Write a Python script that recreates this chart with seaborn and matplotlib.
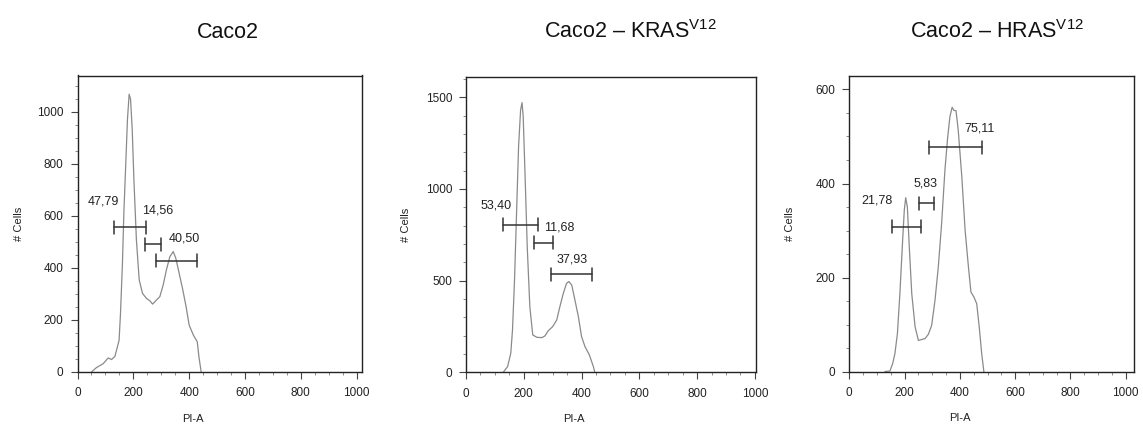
import matplotlib
matplotlib.use("Agg")
import matplotlib.pyplot as plt
from matplotlib.ticker import MultipleLocator
import seaborn as sns
import pandas as pd

sns.set_theme(style="ticks")
plt.rcParams["font.family"] = ["Liberation Sans", "DejaVu Sans"]
plt.rcParams["mathtext.fontset"] = "custom"
plt.rcParams["mathtext.rm"] = "Liberation Sans"

# PI-A channel / cell count histograms
caco2_x = [50, 68, 92, 110, 122, 134, 149, 154, 161, 166, 173, 179, 185, 190, 196,
           202, 211, 221, 233, 247, 259, 269, 283, 295, 307, 319, 331, 343, 352,
           364, 376, 389, 400, 415, 429, 435, 443]
caco2_y = [0, 17, 32, 54, 48, 60, 122, 225, 418, 611, 804, 972, 1068, 1049, 933,
           740, 508, 354, 302, 283, 274, 261, 277, 290, 335, 395, 444, 463, 438,
           380, 322, 251, 180, 142, 116, 58, 0]

kras_x = [129, 144, 155, 161, 168, 175, 182, 189, 194, 198, 205, 212, 221, 231,
          245, 262, 273, 285, 300, 314, 325, 337, 348, 356, 366, 377, 389, 400,
          412, 427, 441, 446]
kras_y = [0, 31, 104, 231, 504, 867, 1231, 1431, 1471, 1395, 1049, 685, 358, 204,
          191, 189, 198, 227, 249, 285, 358, 431, 485, 495, 476, 395, 304, 195,
          140, 95, 31, 0]

hras_x = [129, 147, 157, 165, 174, 183, 193, 199, 204, 210, 217, 226, 238, 250,
          262, 274, 286, 298, 310, 322, 334, 346, 356, 364, 372, 379, 386, 394,
          407, 419, 431, 440, 451, 461, 470, 479, 487]
hras_y = [1, 2, 18, 39, 81, 166, 280, 344, 370, 351, 266, 166, 96, 67, 69, 71, 80,
          99, 152, 223, 315, 429, 499, 542, 562, 555, 555, 514, 415, 301, 223, 170,
          159, 145, 96, 39, 0]

# Gate markers: start, end, height and the percentage shown
caco2_gate_start = [131, 241, 281]
caco2_gate_end = [245, 299, 427]
caco2_gate_y = [557, 492, 427]
caco2_gate_pct = ["47,79", "14,56", "40,50"]
caco2_label_xy = [(92, 656), (286, 620), (384, 512)]

kras_gate_start = [129, 235, 296]
kras_gate_end = [248, 300, 437]
kras_gate_y = [805, 707, 535]
kras_gate_pct = ["53,40", "11,68", "37,93"]
kras_label_xy = [(104, 909), (322, 791), (369, 615)]

hras_gate_start = [154, 253, 290]
hras_gate_end = [258, 308, 479]
hras_gate_y = [308, 358, 477]
hras_gate_pct = ["21,78", "5,83", "75,11"]
hras_label_xy = [(99, 365), (276, 400), (470, 517)]

titles = ["Caco2", r"Caco2 – KRAS$^{\mathrm{V12}}$", r"Caco2 – HRAS$^{\mathrm{V12}}$"]

W, H = 1143, 428
fig = plt.figure(figsize=(W / 100, H / 100), dpi=100)

panels = [
    dict(x=caco2_x, y=caco2_y, gs=caco2_gate_start, ge=caco2_gate_end, gy=caco2_gate_y,
         gp=caco2_gate_pct, lxy=caco2_label_xy,
         box=(77.5, 75.5, 361.7, 372.0), xlim=1018, ylim=1140, ymaj=200, ymin=50,
         cap_frac=0.022, xlab=0.406, title_x=228),
    dict(x=kras_x, y=kras_y, gs=kras_gate_start, ge=kras_gate_end, gy=kras_gate_y,
         gp=kras_gate_pct, lxy=kras_label_xy,
         box=(466.0, 77.3, 756.0, 372.3), xlim=1004, ylim=1609, ymaj=500, ymin=100,
         cap_frac=0.022, xlab=0.372, title_x=630),
    dict(x=hras_x, y=hras_y, gs=hras_gate_start, ge=hras_gate_end, gy=hras_gate_y,
         gp=hras_gate_pct, lxy=hras_label_xy,
         box=(849.3, 75.7, 1134.0, 372.0), xlim=1030, ylim=629, ymaj=200, ymin=50,
         cap_frac=0.022, xlab=0.389, title_x=997),
]

for p, title in zip(panels, titles):
    l, t, r, b = p["box"]
    ax = fig.add_axes([l / W, 1 - b / H, (r - l) / W, (b - t) / H])
    df = pd.DataFrame({"PI-A": p["x"], "count": p["y"]})
    sns.lineplot(data=df, x="PI-A", y="count", ax=ax, color="#8a8a8a", lw=0.9,
                 sort=False, estimator=None)
    ax.set_xlim(0, p["xlim"])
    ax.set_ylim(0, p["ylim"])

    cap = p["ylim"] * p["cap_frac"]
    for xs, xe, gy, pct, (lx, ly) in zip(p["gs"], p["ge"], p["gy"], p["gp"], p["lxy"]):
        ax.plot([xs, xe], [gy, gy], color="#333333", lw=1.1)
        ax.plot([xs, xs], [gy - cap, gy + cap], color="#333333", lw=1.1)
        ax.plot([xe, xe], [gy - cap, gy + cap], color="#333333", lw=1.1)
        ax.text(lx, ly, pct, ha="center", va="center", fontsize=9, color="#222222")

    ax.xaxis.set_major_locator(MultipleLocator(200))
    ax.xaxis.set_minor_locator(MultipleLocator(50))
    ax.yaxis.set_major_locator(MultipleLocator(p["ymaj"]))
    ax.yaxis.set_minor_locator(MultipleLocator(p["ymin"]))
    ax.tick_params(which="major", length=5, width=0.8, color="#444444",
                   labelsize=8.5, labelcolor="#222222")
    ax.tick_params(axis="y", which="major", pad=5)
    ax.tick_params(axis="x", which="major", pad=6)
    ax.tick_params(which="minor", length=2.5, width=0.6, color="#777777")

    for s in ax.spines.values():
        s.set_linewidth(1.0)
        s.set_color("#222222")
    ax.spines["top"].set_visible(True)
    ax.spines["right"].set_visible(True)

    ax.set_xlabel("PI-A", fontsize=8, color="#222222")
    ax.set_ylabel("# Cells", fontsize=8, color="#222222")
    ax.xaxis.set_label_coords(p["xlab"], -0.14)
    ax.yaxis.set_label_coords(-0.19, 0.5)

    fig.text(p["title_x"] / W, 1 - 32 / H, title, ha="center", va="center",
             fontsize=15.5, color="#111111")

fig.savefig("out.png", dpi=100, facecolor="white")
